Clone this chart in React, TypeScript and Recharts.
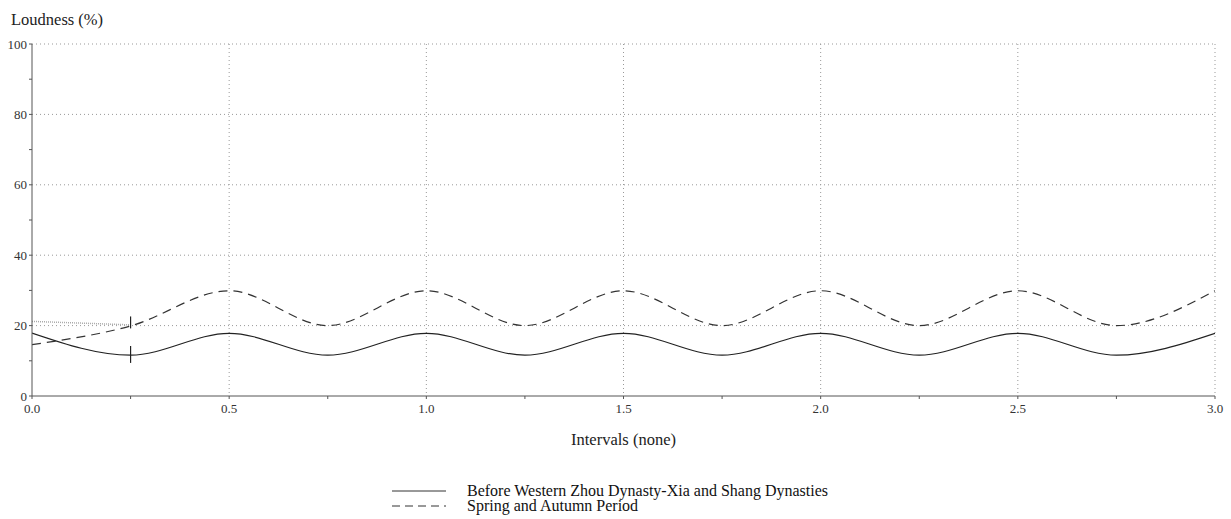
import React from 'react';
import { LineChart, Line, XAxis, YAxis, CartesianGrid, ReferenceLine, Legend } from 'recharts';

const intervals = [0, 0.25, 0.5, 0.75, 1.0, 1.25, 1.5, 1.75, 2.0, 2.25, 2.5, 2.75, 3.0];
const beforeWesternZhou = [17.9, 11.6, 17.8, 11.6, 17.8, 11.6, 17.8, 11.6, 17.8, 11.6, 17.8, 11.6, 17.8];
const springAutumn = [14.6, 19.9, 29.9, 20.0, 29.9, 20.0, 29.9, 20.0, 29.9, 20.0, 29.9, 20.0, 29.9];
const faintTrace = [21.2, 20.2];
const markerSolid = [14.2, 9.4];
const markerDashed = [22.6, 19.2];
const markerX = 0.25;

const xTicks = [0, 0.25, 0.5, 0.75, 1.0, 1.25, 1.5, 1.75, 2.0, 2.25, 2.5, 2.75, 3.0];
const yTicks = [0, 10, 20, 30, 40, 50, 60, 70, 80, 90, 100];
const xGrid = [0.5, 1.0, 1.5, 2.0, 2.5, 3.0];
const yGrid = [20, 40, 60, 80, 100];

const seriesNames = ['Before Western Zhou Dynasty-Xia and Shang Dynasties', 'Spring and Autumn Period'];

const data = intervals.map((x, i) => ({
  x,
  a: beforeWesternZhou[i],
  b: springAutumn[i],
  c: i < faintTrace.length ? faintTrace[i] : null,
}));

const serif = '"Liberation Serif", "Times New Roman", serif';

const LegendContent = () => (
  <div style={{ fontFamily: serif, fontSize: 16, color: '#111', lineHeight: '15px' }}>
    {seriesNames.map((name, i) => (
      <div key={name} style={{ display: 'flex', alignItems: 'center', height: 15 }}>
        <svg width={54} height={10} style={{ marginRight: 21, flex: 'none' }}>
          <line x1={0} y1={5} x2={54} y2={5} stroke="#333" strokeWidth={1}
            strokeDasharray={i === 1 ? '8 5' : undefined} />
        </svg>
        <span style={{ whiteSpace: 'nowrap' }}>{name}</span>
      </div>
    ))}
  </div>
);

export default function App() {
  return (
    <div style={{ position: 'absolute', left: 0, top: 0, width: 1231, height: 519, background: '#fff' }}>
      <div style={{ position: 'absolute', left: 11, top: 10, fontFamily: serif, fontSize: 16.5, color: '#222', lineHeight: '19px' }}>
        Loudness (%)
      </div>
      <LineChart width={1231} height={519} data={data}
        margin={{ top: 44, right: 16, bottom: 93, left: 0 }}>
        <CartesianGrid stroke="#999" strokeDasharray="1 3" horizontalValues={yGrid} verticalValues={xGrid} />
        <XAxis dataKey="x" type="number" domain={[0, 3]} ticks={xTicks} height={30}
          tickFormatter={(v: number) => (Math.abs(v * 2 - Math.round(v * 2)) < 1e-6 ? v.toFixed(1) : '')}
          tickSize={3} tickMargin={5} stroke="#555" interval={0} allowDataOverflow
          tick={{ fontFamily: serif, fontSize: 13, fill: '#333' }}
          label={{ value: 'Intervals (none)', position: 'insideBottom', offset: -19, style: { fontFamily: serif, fontSize: 16.5, fill: '#222' } }} />
        <YAxis type="number" domain={[0, 100]} ticks={yTicks} width={32} interval={0}
          tickFormatter={(v: number) => (v % 20 === 0 ? String(v) : '')}
          tickSize={3} stroke="#555"
          tick={{ fontFamily: serif, fontSize: 13, fill: '#333' }} />
        <Line dataKey="c" stroke="#aaa" strokeWidth={1.5} strokeDasharray="1 1" dot={false} type="linear" isAnimationActive={false} connectNulls={false} legendType="none" />
        <Line dataKey="a" name={seriesNames[0]} stroke="#222" strokeWidth={1.2} dot={false} type="monotone" isAnimationActive={false} />
        <Line dataKey="b" name={seriesNames[1]} stroke="#333" strokeWidth={1.2} strokeDasharray="9 6" dot={false} type="monotone" isAnimationActive={false} />
        <ReferenceLine segment={[{ x: markerX, y: markerDashed[0] }, { x: markerX, y: markerDashed[1] }]} stroke="#222" strokeWidth={1.2} />
        <ReferenceLine segment={[{ x: markerX, y: markerSolid[0] }, { x: markerX, y: markerSolid[1] }]} stroke="#222" strokeWidth={1.2} />
        <Legend layout="horizontal" align="center" verticalAlign="middle"
          wrapperStyle={{ top: 483, left: 392, width: 600 }} content={<LegendContent />} />
      </LineChart>
    </div>
  );
}
